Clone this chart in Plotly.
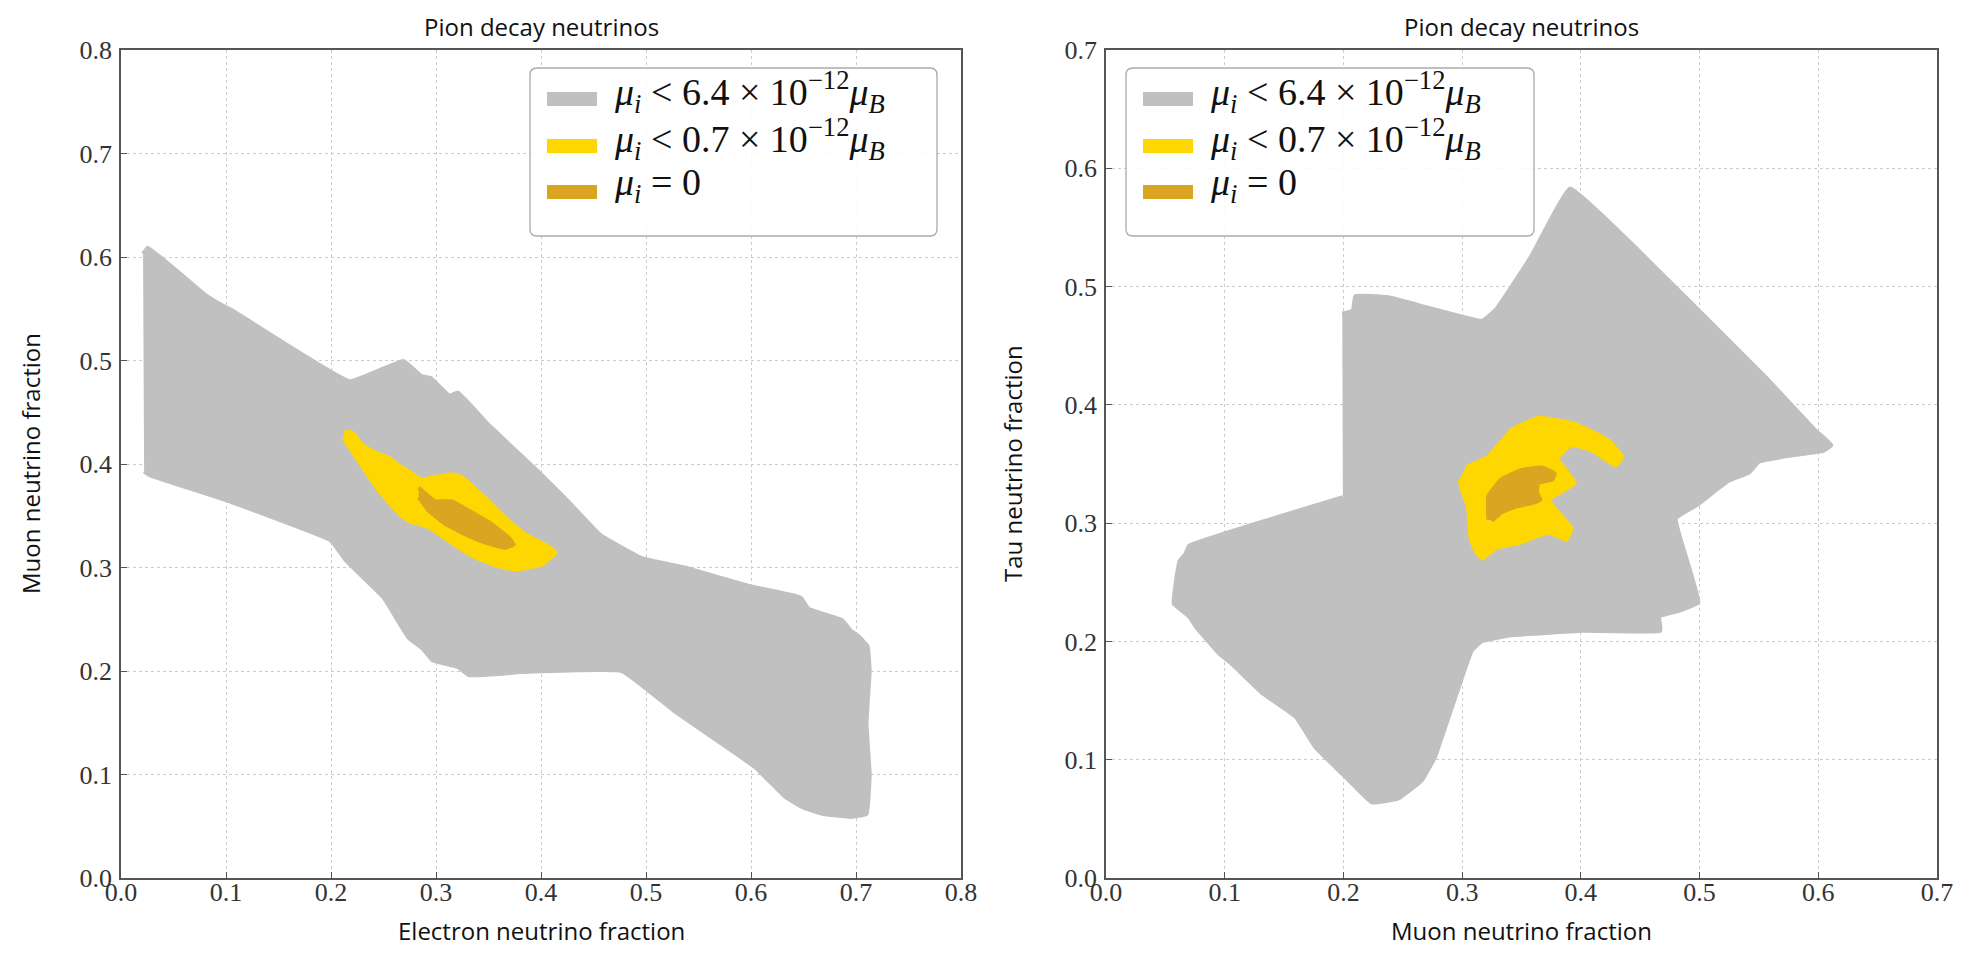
import plotly.graph_objects as go

# ---------------- data ----------------
# Left panel: electron fraction (x) vs muon fraction (y)
left_gray_x = [0.021, 0.0255, 0.0795, 0.095, 0.105, 0.218, 0.269, 0.286, 0.295, 0.313, 0.321, 0.35, 0.397,
               0.423, 0.457, 0.496, 0.537, 0.599, 0.647, 0.655, 0.687, 0.695, 0.702, 0.711, 0.713, 0.710,
               0.713, 0.710, 0.695, 0.668, 0.650, 0.633, 0.604, 0.526, 0.477, 0.38, 0.36, 0.331, 0.321,
               0.297, 0.287, 0.274, 0.25, 0.214, 0.2, 0.1, 0.028, 0.022]
left_gray_y = [0.603, 0.609, 0.564, 0.554, 0.549, 0.480, 0.4995, 0.485, 0.483, 0.466, 0.469, 0.438, 0.393,
               0.367, 0.331, 0.309, 0.300, 0.282, 0.271, 0.260, 0.249, 0.239, 0.234, 0.224, 0.20, 0.15,
               0.10, 0.062, 0.059, 0.062, 0.068, 0.078, 0.107, 0.162, 0.200, 0.199, 0.197, 0.196, 0.204,
               0.210, 0.222, 0.232, 0.271, 0.307, 0.326, 0.365, 0.389, 0.393]

left_yellow_x = [0.213, 0.221, 0.229, 0.242, 0.255, 0.264, 0.274, 0.286, 0.315, 0.325, 0.350, 0.369, 0.385,
                 0.404, 0.414, 0.401, 0.376, 0.357, 0.337, 0.322, 0.293, 0.274, 0.265, 0.245, 0.225, 0.212]
left_yellow_y = [0.4315, 0.430, 0.419, 0.411, 0.406, 0.399, 0.393, 0.385, 0.390, 0.387, 0.364, 0.345, 0.332,
                 0.322, 0.3145, 0.303, 0.298, 0.302, 0.310, 0.319, 0.339, 0.345, 0.352, 0.375, 0.405, 0.425]

left_dark_x = [0.2835, 0.299, 0.315, 0.331, 0.353, 0.369, 0.374, 0.366, 0.347, 0.328, 0.309, 0.293, 0.2835]
left_dark_y = [0.377, 0.364, 0.364, 0.355, 0.342, 0.329, 0.3225, 0.319, 0.324, 0.332, 0.342, 0.355, 0.368]

# Right panel: muon fraction (x) vs tau fraction (y)
right_gray_x = [0.199, 0.208, 0.21, 0.238, 0.272, 0.317, 0.328, 0.339, 0.359, 0.391, 0.446, 0.556, 0.598,
                0.611, 0.604, 0.576, 0.55, 0.542, 0.525, 0.514, 0.499, 0.48, 0.499, 0.483, 0.466, 0.467,
                0.402, 0.34, 0.316, 0.308, 0.277, 0.266, 0.246, 0.224, 0.210, 0.199, 0.176, 0.160, 0.132,
                0.106, 0.095, 0.076, 0.070, 0.057, 0.059, 0.062, 0.067, 0.070, 0.126, 0.1995]
right_gray_y = [0.477, 0.480, 0.492, 0.491, 0.482, 0.471, 0.480, 0.496, 0.527, 0.583, 0.533, 0.423, 0.378,
                0.366, 0.361, 0.357, 0.352, 0.343, 0.336, 0.328, 0.316, 0.304, 0.233, 0.226, 0.221, 0.209,
                0.209, 0.205, 0.200, 0.192, 0.102, 0.0825, 0.067, 0.064, 0.077, 0.088, 0.111, 0.136, 0.156,
                0.181, 0.190, 0.212, 0.221, 0.232, 0.2515, 0.268, 0.274, 0.281, 0.2995, 0.322]

right_yellow_x = [0.303, 0.322, 0.342, 0.364, 0.395, 0.423, 0.435, 0.429, 0.409, 0.392, 0.380, 0.395, 0.373,
                  0.381, 0.392, 0.388, 0.373, 0.347, 0.328, 0.317, 0.311, 0.307, 0.305, 0.300, 0.298]
right_yellow_y = [0.347, 0.356, 0.379, 0.389, 0.384, 0.370, 0.356, 0.349, 0.362, 0.366, 0.355, 0.334, 0.320,
                  0.309, 0.296, 0.286, 0.292, 0.283, 0.279, 0.270, 0.277, 0.288, 0.3135, 0.328, 0.337]

right_dark_x = [0.322, 0.322, 0.333, 0.350, 0.367, 0.378, 0.376, 0.364, 0.363, 0.366, 0.359, 0.345, 0.333, 0.325]
right_dark_y = [0.303, 0.323, 0.337, 0.345, 0.347, 0.342, 0.337, 0.334, 0.326, 0.320, 0.317, 0.314, 0.309, 0.302]

series_names = ["<i>μ<sub>i</sub></i> < 6.4 × 10<sup>−12</sup><i>μ<sub>B</sub></i>",
                "<i>μ<sub>i</sub></i> < 0.7 × 10<sup>−12</sup><i>μ<sub>B</sub></i>",
                "<i>μ<sub>i</sub></i> = 0"]
series_colors = ["#c0c0c0", "#ffd700", "#daa520"]

panel_title = "Pion decay neutrinos"
left_xlabel = "Electron neutrino fraction"
left_ylabel = "Muon neutrino fraction"
right_xlabel = "Muon neutrino fraction"
right_ylabel = "Tau neutrino fraction"
left_ticks = [0.0, 0.1, 0.2, 0.3, 0.4, 0.5, 0.6, 0.7, 0.8]
right_ticks = [0.0, 0.1, 0.2, 0.3, 0.4, 0.5, 0.6, 0.7]

# ---------------- figure ----------------
W, H = 1964, 957
fig = go.Figure()

left_sets = [(left_gray_x, left_gray_y), (left_yellow_x, left_yellow_y), (left_dark_x, left_dark_y)]
right_sets = [(right_gray_x, right_gray_y), (right_yellow_x, right_yellow_y), (right_dark_x, right_dark_y)]

for (xs, ys), name, col in zip(left_sets, series_names, series_colors):
    fig.add_trace(go.Scatter(x=xs, y=ys, mode="lines", fill="toself", fillcolor=col,
                             line=dict(color=col, width=4, shape="spline", smoothing=0.3),
                             name=name, xaxis="x", yaxis="y", showlegend=False, hoverinfo="name"))
for (xs, ys), name, col in zip(right_sets, series_names, series_colors):
    fig.add_trace(go.Scatter(x=xs, y=ys, mode="lines", fill="toself", fillcolor=col,
                             line=dict(color=col, width=4, shape="spline", smoothing=0.3),
                             name=name, xaxis="x2", yaxis="y2", showlegend=False, hoverinfo="name"))

serif = "Liberation Serif, DejaVu Serif, serif"
sans = "Open Sans, DejaVu Sans, sans-serif"
tickfont = dict(family=serif, size=26, color="#333333")
labfont = dict(family=sans, size=24, color="#111111")


def axis(domain, rng, ticks, anchor, standoff):
    return dict(domain=domain, range=rng, tickvals=ticks, ticktext=[f"{t:.1f}" for t in ticks],
                showgrid=True, gridcolor="#cccccc", griddash="dot", gridwidth=1,
                zeroline=False, showline=True, linecolor="#555555", linewidth=1.5, mirror=True,
                ticks="inside", ticklen=6, tickcolor="#555555", tickfont=tickfont,
                ticklabelstandoff=standoff, anchor=anchor,
                automargin=False, fixedrange=True)


xd1 = [113 / W, 953 / W]
xd2 = [1098 / W, 1929 / W]
yd = [1 - 870 / H, 1 - 42 / H]

shapes = []
annotations = []


def px(x):
    return x / W


def py(y):
    return 1 - y / H


def add_legend(x0, x1, y0, y1):
    r = 7
    path = (f"M {px(x0 + r)},{py(y0)} L {px(x1 - r)},{py(y0)} Q {px(x1)},{py(y0)} {px(x1)},{py(y0 + r)} "
            f"L {px(x1)},{py(y1 - r)} Q {px(x1)},{py(y1)} {px(x1 - r)},{py(y1)} "
            f"L {px(x0 + r)},{py(y1)} Q {px(x0)},{py(y1)} {px(x0)},{py(y1 - r)} "
            f"L {px(x0)},{py(y0 + r)} Q {px(x0)},{py(y0)} {px(x0 + r)},{py(y0)} Z")
    shapes.append(dict(type="path", path=path, xref="paper", yref="paper",
                       fillcolor="rgba(255,255,255,0.85)", line=dict(color="#aaaaaa", width=1.3)))
    centers = [y0 + 31, y0 + 78, y0 + 124]
    for yc, name, col in zip(centers, series_names, series_colors):
        shapes.append(dict(type="rect", xref="paper", yref="paper",
                           x0=px(x0 + 17), x1=px(x0 + 67), y0=py(yc + 7), y1=py(yc - 7),
                           fillcolor=col, line=dict(width=0)))
        annotations.append(dict(text=name, x=px(x0 + 82), y=py(yc - 7), xref="paper", yref="paper",
                                xanchor="left", yanchor="middle", showarrow=False,
                                font=dict(family=serif, size=38, color="#111111")))


add_legend(522, 929, 60, 228)
add_legend(1118, 1526, 60, 228)

for d, xl, yl, ytx in ((xd1, left_xlabel, left_ylabel, 22), (xd2, right_xlabel, right_ylabel, 1004)):
    xc = (d[0] + d[1]) / 2
    annotations.append(dict(text=panel_title, x=xc, y=py(19), xref="paper", yref="paper",
                            xanchor="center", yanchor="middle", showarrow=False,
                            font=dict(family=sans, size=24, color="#111111")))
    annotations.append(dict(text=xl, x=xc, y=py(922), xref="paper", yref="paper",
                            xanchor="center", yanchor="middle", showarrow=False, font=labfont))
    annotations.append(dict(text=yl, x=px(ytx), y=(yd[0] + yd[1]) / 2, xref="paper", yref="paper",
                            xanchor="center", yanchor="middle", textangle=-90, showarrow=False,
                            font=labfont))

fig.update_layout(
    width=W, height=H,
    margin=dict(l=0, r=0, t=0, b=0),
    paper_bgcolor="white", plot_bgcolor="white",
    xaxis=axis(xd1, [0, 0.8], left_ticks, "y", -10),
    yaxis=axis(yd, [0, 0.8], left_ticks, "x", 2),
    xaxis2=axis(xd2, [0, 0.7], right_ticks, "y2", -10),
    yaxis2=axis(yd, [0, 0.7], right_ticks, "x2", 2),
    shapes=shapes,
    annotations=annotations,
    showlegend=False,
)

fig.write_html("out.html")
